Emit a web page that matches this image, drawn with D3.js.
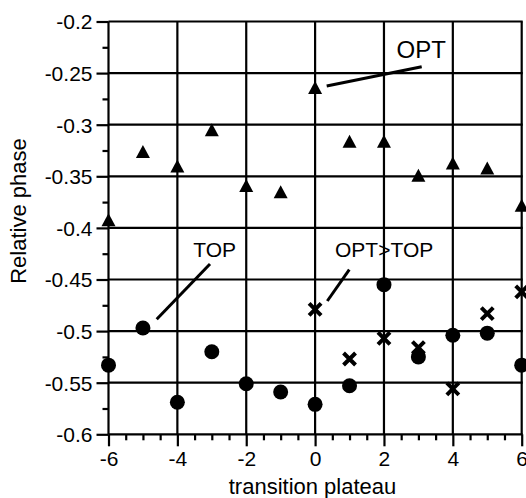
<!DOCTYPE html>
<html><head><meta charset="utf-8">
<script src="https://cdn.jsdelivr.net/npm/d3@7"></script>
<style>body{margin:0;background:#fff}svg{display:block}text{font-family:"Liberation Sans",Arial,sans-serif;fill:#000}</style>
</head><body>
<svg id="c" width="526" height="498"></svg>
<script>
const xTicks = [-6,-4,-2,0,2,4,6];
const xTickLabels = ["-6","-4","-2","0","2","4","6"];
const yTicks = [-0.6,-0.55,-0.5,-0.45,-0.4,-0.35,-0.3,-0.25,-0.2];
const yTickLabels = ["-0.6","-0.55","-0.5","-0.45","-0.4","-0.35","-0.3","-0.25","-0.2"];
const optX = [-6,-5,-4,-3,-2,-1,0,1,2,3,4,5,6];
const optY = [-0.392,-0.326,-0.340,-0.305,-0.359,-0.365,-0.264,-0.316,-0.316,-0.349,-0.337,-0.342,-0.378];
const topX = [-6,-5,-4,-3,-2,-1,0,1,2,3,4,5,6];
const topY = [-0.533,-0.497,-0.569,-0.520,-0.551,-0.559,-0.571,-0.553,-0.455,-0.525,-0.504,-0.502,-0.533];
const bothX = [0,1,2,3,4,5,6];
const bothY = [-0.479,-0.527,-0.507,-0.516,-0.556,-0.483,-0.462];

const svg = d3.select("#c");
const x = d3.scaleLinear().domain([-6,6]).range([108.5,521.7]);
const y = d3.scaleLinear().domain([-0.6,-0.2]).range([434.3,21.5]);

const g = svg.append("g");
g.selectAll(".gx").data(xTicks).join("line")
  .attr("x1",d=>x(d)).attr("x2",d=>x(d)).attr("y1",y(-0.6)).attr("y2",y(-0.2))
  .attr("stroke","#000").attr("stroke-width",2.2);
g.selectAll(".gy").data(yTicks).join("line")
  .attr("x1",x(-6)).attr("x2",x(6)+1).attr("y1",d=>y(d)).attr("y2",d=>y(d))
  .attr("stroke","#000").attr("stroke-width",2.2);

const xAxis = d3.axisBottom(x).tickValues(xTicks).tickSize(12).tickSizeOuter(0).tickFormat((d,i)=>xTickLabels[i]);
const xMinor = d3.axisBottom(x).tickValues(d3.range(-6,6.01,0.5).filter(v=>v%2!==0)).tickSize(6).tickFormat("");
const yAxis = d3.axisLeft(y).tickValues(yTicks).tickSize(12).tickSizeOuter(0).tickFormat((d,i)=>yTickLabels[i]);
const yMinor = d3.axisLeft(y).tickValues(d3.range(-0.575,-0.2,0.05)).tickSize(6).tickFormat("");

function style(sel){
  sel.select(".domain").remove();
  sel.selectAll("line").attr("stroke","#000").attr("stroke-width",2.2);
  sel.selectAll("text").attr("font-size",21).attr("fill","#000").style("font-family",'"Liberation Sans",Arial,sans-serif');
}
const gx = svg.append("g").attr("transform",`translate(0,${y(-0.6)})`).call(xAxis).call(style);
gx.selectAll("text").attr("dy",null).attr("y",32);
svg.append("g").attr("transform",`translate(0,${y(-0.6)})`).call(xMinor).call(style);
const gy = svg.append("g").attr("transform",`translate(${x(-6)},0)`).call(yAxis).call(style);
gy.selectAll("text").attr("x",-16).attr("dy","0.35em");
svg.append("g").attr("transform",`translate(${x(-6)},0)`).call(yMinor).call(style);

const tri = "M0,-6.5L7,6.5L-7,6.5Z";
svg.append("g").selectAll("path").data(optX).join("path")
  .attr("d",tri).attr("transform",(d,i)=>`translate(${x(d)},${y(optY[i])})`).attr("fill","#000");
svg.append("g").selectAll("circle").data(topX).join("circle")
  .attr("cx",d=>x(d)).attr("cy",(d,i)=>y(topY[i])).attr("r",7.5).attr("fill","#000");
svg.append("g").selectAll("path").data(bothX).join("path")
  .attr("d","M-6,-6L6,6M-6,6L6,-6")
  .attr("transform",(d,i)=>`translate(${x(d)},${y(bothY[i])})`)
  .attr("stroke","#000").attr("stroke-width",4).attr("fill","none");

const ann = svg.append("g");
ann.append("line").attr("x1",326.7).attr("y1",86).attr("x2",421.7).attr("y2",66.7).attr("stroke","#000").attr("stroke-width",3);
ann.append("line").attr("x1",156.7).attr("y1",319.3).attr("x2",210).attr("y2",264).attr("stroke","#000").attr("stroke-width",3);
ann.append("line").attr("x1",327.3).attr("y1",301).attr("x2",349.3).attr("y2",269.7).attr("stroke","#000").attr("stroke-width",3);
ann.append("text").attr("x",396.5).attr("y",57.5).attr("font-size",24).text("OPT");
ann.append("text").attr("x",193.3).attr("y",257.3).attr("font-size",21).text("TOP");
ann.append("text").attr("x",335).attr("y",257.3).attr("font-size",21).text("OPT>TOP");

svg.append("text").attr("x",312.5).attr("y",494).attr("text-anchor","middle").attr("font-size",22).text("transition plateau");
svg.append("text").attr("transform","translate(26,211) rotate(-90)").attr("text-anchor","middle").attr("font-size",22).text("Relative phase");
</script>
</body></html>
